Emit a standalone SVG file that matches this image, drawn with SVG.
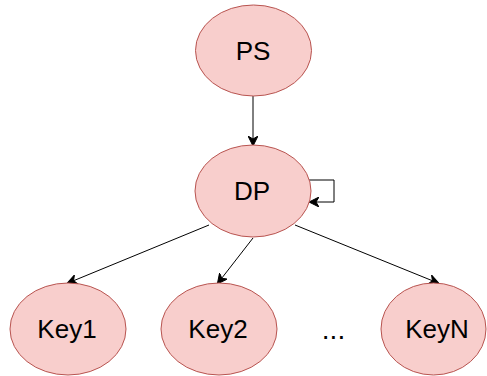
<svg xmlns="http://www.w3.org/2000/svg" width="487" height="376" viewBox="0 0 487 376">
  <defs>
    <style>
      .node { fill: #f8cecc; stroke: #b85450; stroke-width: 1; }
      .label { font-family: "Liberation Sans", Arial, sans-serif; font-size: 26px; fill: #000; text-anchor: middle; }
      .edge { fill: none; stroke: #000; stroke-width: 1; }
    </style>
    <marker id="arrow" viewBox="0 0 10 10" refX="9" refY="5" markerWidth="10" markerHeight="10" markerUnits="userSpaceOnUse" orient="auto">
      <path d="M0,0 L10,5 L0,10 L3,5 Z" fill="#000" stroke="#000" stroke-width="1"/>
    </marker>
  </defs>

  <g id="connectors">
    <line class="edge" x1="253" y1="96" x2="253" y2="145" marker-end="url(#arrow)"/>
    <path class="edge" d="M309,180 H334 V202 H310" marker-end="url(#arrow)"/>
    <line class="edge" x1="209" y1="225" x2="68" y2="283" marker-end="url(#arrow)"/>
    <line class="edge" x1="253" y1="238" x2="218" y2="283" marker-end="url(#arrow)"/>
    <line class="edge" x1="295" y1="225" x2="438" y2="283" marker-end="url(#arrow)"/>
  </g>

  <g id="ps">
    <ellipse class="node" cx="253.5" cy="50.5" rx="58" ry="45.5"/>
    <text class="label" x="253" y="60">PS</text>
  </g>
  <g id="dp">
    <ellipse class="node" cx="253" cy="191" rx="58" ry="46"/>
    <text class="label" x="252" y="199.5">DP</text>
  </g>
  <g id="key1">
    <ellipse class="node" cx="68" cy="329" rx="58" ry="46"/>
    <text class="label" x="67" y="338">Key1</text>
  </g>
  <g id="key2">
    <ellipse class="node" cx="219" cy="329" rx="58" ry="46"/>
    <text class="label" x="218" y="338">Key2</text>
  </g>
  <g id="ellipsis">
    <text class="label" x="333.5" y="339" style="font-size:28px">...</text>
  </g>
  <g id="keyn">
    <ellipse class="node" cx="433.5" cy="329" rx="52.5" ry="46"/>
    <text class="label" x="437" y="338">KeyN</text>
  </g>
</svg>
